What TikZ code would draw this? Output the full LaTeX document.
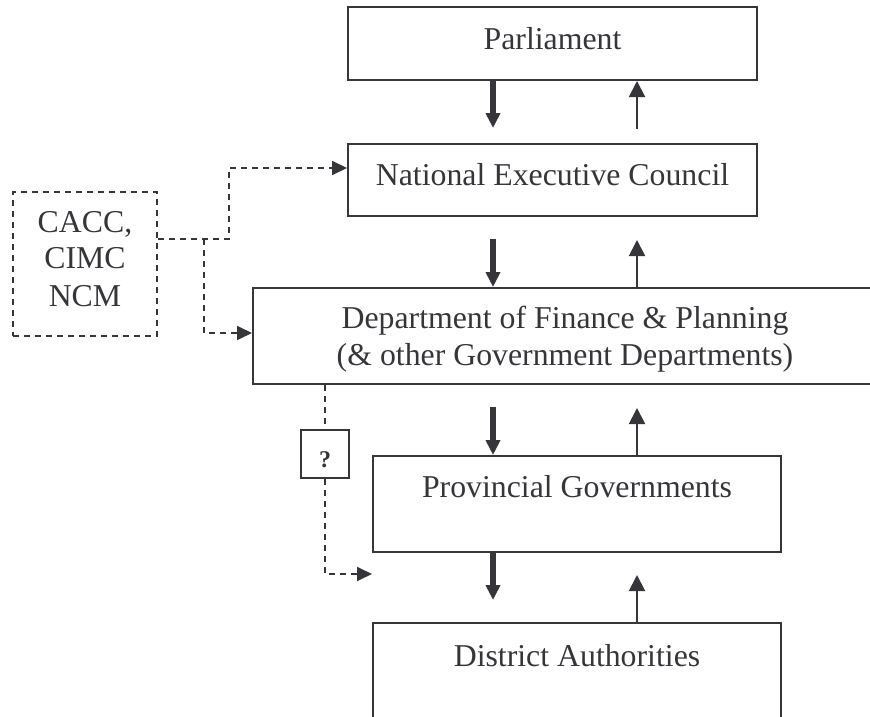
\documentclass[tikz,border=0pt]{standalone}
\usepackage{fontspec}
\setmainfont{Liberation Serif}
\usetikzlibrary{arrows.meta,calc}
\definecolor{ink}{RGB}{54,54,58}
\begin{document}
\begin{tikzpicture}[x=1pt,y=-1pt,
  box/.style={draw=ink,line width=2pt,rectangle,inner sep=0pt},
  dbox/.style={box,dash pattern=on 6pt off 5pt},
  txt/.style={anchor=base,inner sep=0pt,text=ink,font=\fontsize{31.8}{37}\selectfont},
  down/.style={draw=ink,line width=5.5pt,-{Triangle[width=14pt,length=15pt]}},
  up/.style={draw=ink,line width=2pt,-{Triangle[width=16pt,length=16pt]}},
  dlink/.style={draw=ink,line width=1.8pt,dash pattern=on 6pt off 5pt},
  dlinkarrow/.style={dlink,-{Triangle[width=14pt,length=15pt]}}]
\useasboundingbox (0,0) rectangle (870,717);
\clip (0,0) rectangle (870,717);

% boxes of the hierarchy
\node[box,minimum width=409pt,minimum height=73pt] (parl) at (552.5,43.5) {};
\node[box,minimum width=409pt,minimum height=72pt] (nec) at (552.5,180) {};
\node[box,minimum width=624pt,minimum height=96pt] (dept) at (565,336) {};
\node[box,minimum width=408pt,minimum height=96pt] (prov) at (577,504) {};
\node[box,minimum width=408pt,minimum height=117pt] (dist) at (577,681.5) {};
\node[dbox,minimum width=144pt,minimum height=144pt] (cacc) at (85,264) {};
\node[box,minimum width=48pt,minimum height=48pt] (q) at (325,454) {};

% labels
\node[txt] (parlt) at (552.5,49) {Parliament};
\node[txt] (nect) at (552.5,185) {National Executive Council};
\node[txt] (deptt1) at (565,328) {Department of Finance \& Planning};
\node[txt] (deptt2) at (565,365) {(\& other Government Departments)};
\node[txt] (provt) at (577,497) {Provincial Governments};
\node[txt] (distt) at (577,666) {District Authorities};
\node[txt] (cacct1) at (85,232) {CACC,};
\node[txt] (cacct2) at (85,268) {CIMC};
\node[txt] (cacct3) at (85,306) {NCM};
\node[anchor=base,inner sep=0pt,text=ink,font=\fontsize{24}{28}\selectfont\bfseries] (qt) at (325,467) {?};

% columns of the vertical arrows
\coordinate (dx) at (493,0);
\coordinate (ux) at (637,0);

% downward flow
\draw[down] (parl.south -| dx) -- ++(0,47);
\draw[down] ($(dept.north -| dx)+(0,-48)$) -- (dept.north -| dx);
\draw[down] ($(prov.north -| dx)+(0,-48)$) -- (prov.north -| dx);
\draw[down] (prov.south -| dx) -- ++(0,47);

% upward flow
\draw[up] ($(parl.south -| ux)+(0,48)$) -- (parl.south -| ux);
\draw[up] (dept.north -| ux) -- ++(0,-47);
\draw[up] (prov.north -| ux) -- ++(0,-47);
\draw[up] (dist.north -| ux) -- ++(0,-47);

% advisory links
\coordinate (j) at (204,239);
\draw[dlinkarrow] ($(cacc.east)+(0,-25)$) -- (229,239) -- (229,168) -- ($(nec.west)+(0,-12)$);
\draw[dlinkarrow] (j) -- (204,333) -- ($(dept.west)+(0,-3)$);

% uncertain link to the districts
\coordinate (qend) at (372,574);
\draw[dlink] (dept.south -| q) -- (q.north);
\draw[dlinkarrow] (q.south) -- (q.south |- qend) -- (qend);
\end{tikzpicture}
\end{document}
